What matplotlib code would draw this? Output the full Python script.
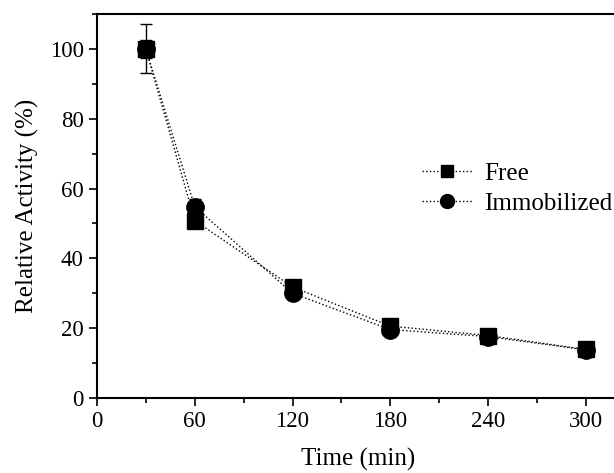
import matplotlib
matplotlib.use("Agg")
import matplotlib.pyplot as plt
from matplotlib.ticker import MultipleLocator

plt.rcParams['font.family'] = ['Liberation Serif', 'DejaVu Serif']

time = [30, 60, 120, 180, 240, 300]
free = [100, 50.8, 31.8, 20.6, 17.9, 13.9]
free_err = [2.5, 2.0, 1.0, 1.0, 0.8, 0.8]
immob = [100, 54.8, 30.0, 19.6, 17.6, 13.8]
immob_err = [7.0, 2.3, 1.0, 1.0, 0.8, 0.8]

fig = plt.figure(figsize=(6.14, 4.73), dpi=100)
ax = fig.add_axes([97/614, 75/473, (620-97)/614, (398-14)/473])

ax.errorbar(time, free, yerr=free_err, color='black', ls=':', lw=1.0,
            marker='s', ms=11.5, capsize=4, elinewidth=1, capthick=1, label='Free')
ax.errorbar(time, immob, yerr=immob_err, color='black', ls=':', lw=1.0,
            marker='o', ms=12.5, capsize=4, elinewidth=1, capthick=1, label='Immobilized')

ax.set_xlim(0, 321)
ax.set_ylim(0, 110)
ax.xaxis.set_major_locator(MultipleLocator(60))
ax.xaxis.set_minor_locator(MultipleLocator(30))
ax.yaxis.set_major_locator(MultipleLocator(20))
ax.yaxis.set_minor_locator(MultipleLocator(10))
ax.tick_params(which='both', direction='out', width=1.2, labelsize=16.5)
ax.tick_params(which='major', length=6)
ax.tick_params(which='minor', length=3.5)
for s in ax.spines.values():
    s.set_linewidth(1.5)

ax.set_xlabel('Time (min)', fontsize=18, labelpad=11)
ax.set_ylabel('Relative Activity (%)', fontsize=18, labelpad=8)

handles, labels = ax.get_legend_handles_labels()
handles = [h[0] for h in handles]
ax.legend(handles, labels, loc='upper left', bbox_to_anchor=(0.597, 0.647),
          frameon=False, fontsize=18, handlelength=2.0, markerscale=0.8,
          borderpad=0.0, labelspacing=0.32, handletextpad=0.5)

fig.savefig('out.png', dpi=100)
